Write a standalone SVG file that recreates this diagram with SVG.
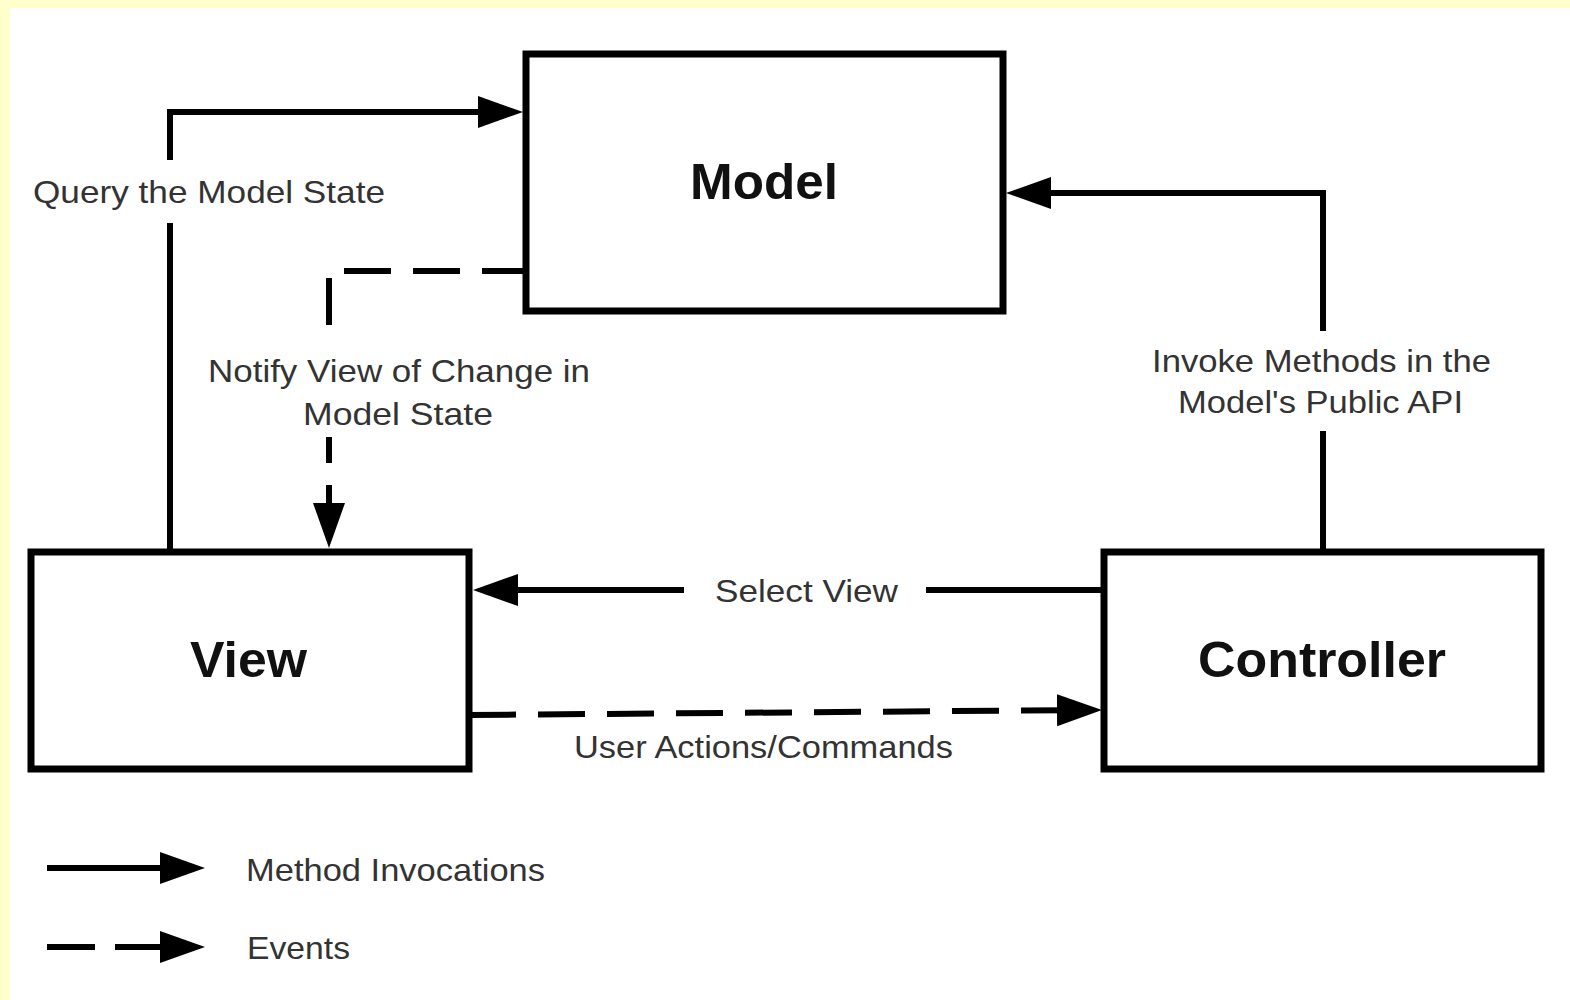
<svg xmlns="http://www.w3.org/2000/svg" width="1570" height="1000" viewBox="0 0 1570 1000">
  <style>
    .box { fill: #ffffff; stroke: #000000; stroke-width: 7; }
    .title { font-family: "Liberation Sans", Arial, sans-serif; font-size: 50px; font-weight: bold; fill: #111111; }
    .label { font-family: "Liberation Sans", Arial, sans-serif; font-size: 32px; fill: #333333; }
    .bg { fill: #ffffff; }
    .line { fill: none; stroke: #000000; stroke-width: 6; }
    .dash { fill: none; stroke: #000000; stroke-width: 6; stroke-dasharray: 47 22; }
  </style>
  <defs>
    <marker id="head" markerUnits="userSpaceOnUse" markerWidth="46" markerHeight="34" viewBox="0 -17 46 34" refX="30" refY="0" orient="auto">
      <path d="M0,-16 L45,0 L0,16 Z" fill="#000000"/>
    </marker>
  </defs>

  <!-- page background with pale yellow margin -->
  <rect x="0" y="0" width="1570" height="1000" fill="#ffffcc"/>
  <rect x="10" y="8" width="1560" height="992" fill="#ffffff"/>

  <!-- connectors -->
  <g id="connectors">
    <!-- View queries Model -->
    <path class="line" d="M170,552 L170,112 L508,112" marker-end="url(#head)"/>
    <!-- Model notifies View -->
    <path class="dash" d="M523,271 L329,271 L329,533" style="stroke-dashoffset: 6" marker-end="url(#head)"/>
    <!-- Controller invokes Model -->
    <path class="line" d="M1323,552 L1323,193 L1021,193" marker-end="url(#head)"/>
    <!-- Controller selects View -->
    <path class="line" d="M1104,590 L488,590" marker-end="url(#head)"/>
    <!-- View sends user actions to Controller -->
    <path class="dash" d="M469,715 L1087,710" marker-end="url(#head)"/>
  </g>

  <!-- connector labels -->
  <g id="label-query">
    <rect class="bg" x="12" y="160" width="392" height="63"/>
    <text class="label" x="33" y="203" textLength="352" lengthAdjust="spacingAndGlyphs">Query the Model State</text>
  </g>
  <g id="label-notify">
    <rect class="bg" x="200" y="327" width="400" height="110"/>
    <text class="label" x="208" y="382" textLength="382" lengthAdjust="spacingAndGlyphs">Notify View of Change in</text>
    <text class="label" x="303" y="425" textLength="190" lengthAdjust="spacingAndGlyphs">Model State</text>
  </g>
  <g id="label-invoke">
    <rect class="bg" x="1140" y="331" width="362" height="100"/>
    <text class="label" x="1152" y="372" textLength="339" lengthAdjust="spacingAndGlyphs">Invoke Methods in the</text>
    <text class="label" x="1178" y="413" textLength="285" lengthAdjust="spacingAndGlyphs">Model's Public API</text>
  </g>
  <g id="label-select">
    <rect class="bg" x="684" y="570" width="242" height="42"/>
    <text class="label" x="715" y="602" textLength="183" lengthAdjust="spacingAndGlyphs">Select View</text>
  </g>
  <g id="label-actions">
    <text class="label" x="574" y="758" textLength="379" lengthAdjust="spacingAndGlyphs">User Actions/Commands</text>
  </g>

  <!-- nodes -->
  <g id="model">
    <rect class="box" x="526" y="54" width="477" height="257"/>
    <text class="title" x="690" y="199" textLength="148" lengthAdjust="spacingAndGlyphs">Model</text>
  </g>
  <g id="view">
    <rect class="box" x="31" y="552" width="438" height="217"/>
    <text class="title" x="190" y="677" textLength="117" lengthAdjust="spacingAndGlyphs">View</text>
  </g>
  <g id="controller">
    <rect class="box" x="1104" y="552" width="437" height="217"/>
    <text class="title" x="1198" y="677" textLength="248" lengthAdjust="spacingAndGlyphs">Controller</text>
  </g>

  <!-- legend -->
  <g id="legend">
    <path class="line" d="M47,868 L190,868" marker-end="url(#head)"/>
    <text class="label" x="246" y="881" textLength="299" lengthAdjust="spacingAndGlyphs">Method Invocations</text>
    <path class="dash" d="M47,947 L190,947" style="stroke-dasharray: 48 20" marker-end="url(#head)"/>
    <text class="label" x="247" y="959" textLength="103" lengthAdjust="spacingAndGlyphs">Events</text>
  </g>
</svg>
